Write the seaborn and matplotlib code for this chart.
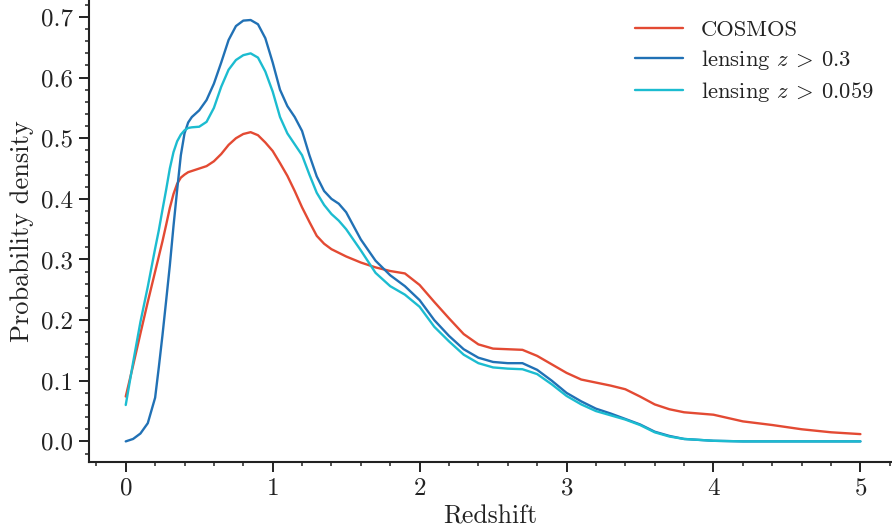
import matplotlib
matplotlib.use("Agg")
import matplotlib.pyplot as plt
from matplotlib.ticker import MultipleLocator, FormatStrFormatter
import pandas as pd
import seaborn as sns

# Redshift grid shared by the three density curves
redshift = [0.00, 0.05, 0.10, 0.15, 0.20, 0.225, 0.25, 0.275, 0.30, 0.325,
            0.35, 0.375, 0.40, 0.425, 0.45,
            0.50, 0.55, 0.60, 0.65, 0.70, 0.75, 0.80, 0.85, 0.90, 0.95,
            1.00, 1.05, 1.10, 1.15, 1.20, 1.25, 1.30, 1.35, 1.40, 1.45,
            1.50, 1.6, 1.7, 1.8, 1.9, 2.0, 2.1, 2.2, 2.3, 2.4,
            2.5, 2.6, 2.7, 2.8, 2.9, 3.0, 3.1, 3.2, 3.3, 3.4,
            3.5, 3.6, 3.7, 3.8, 4.0, 4.2, 4.4, 4.6, 4.8, 5.0]

cosmos = [0.074, 0.125, 0.178, 0.230, 0.280, 0.305, 0.330, 0.357, 0.385, 0.408,
          0.425, 0.435, 0.440, 0.444, 0.446,
          0.450, 0.454, 0.462, 0.474, 0.489, 0.500, 0.507, 0.510, 0.505, 0.493,
          0.479, 0.459, 0.438, 0.413, 0.386, 0.362, 0.339, 0.326, 0.317, 0.311,
          0.305, 0.295, 0.287, 0.281, 0.277, 0.258, 0.230, 0.203, 0.177, 0.160,
          0.153, 0.152, 0.151, 0.141, 0.127, 0.113, 0.102, 0.097, 0.092, 0.086,
          0.074, 0.061, 0.053, 0.048, 0.044, 0.033, 0.027, 0.020, 0.015, 0.012]

lensing_03 = [0.000, 0.004, 0.013, 0.030, 0.072, 0.122, 0.175, 0.232, 0.290, 0.355,
              0.415, 0.472, 0.508, 0.526, 0.535,
              0.546, 0.563, 0.590, 0.625, 0.662, 0.685, 0.694, 0.695, 0.688, 0.665,
              0.625, 0.580, 0.553, 0.535, 0.512, 0.472, 0.437, 0.413, 0.400, 0.392,
              0.378, 0.333, 0.298, 0.274, 0.256, 0.233, 0.200, 0.174, 0.152, 0.138,
              0.131, 0.129, 0.129, 0.118, 0.100, 0.080, 0.066, 0.054, 0.046, 0.037,
              0.028, 0.016, 0.009, 0.004, 0.001, 0.000, 0.000, 0.000, 0.000, 0.000]

lensing_0059 = [0.060, 0.130, 0.197, 0.255, 0.318, 0.348, 0.382, 0.415, 0.450, 0.477,
                0.495, 0.506, 0.513, 0.517, 0.518,
                0.519, 0.527, 0.550, 0.585, 0.613, 0.629, 0.637, 0.640, 0.633, 0.610,
                0.577, 0.535, 0.508, 0.490, 0.472, 0.440, 0.410, 0.390, 0.375, 0.364,
                0.350, 0.315, 0.278, 0.256, 0.242, 0.222, 0.189, 0.165, 0.143, 0.129,
                0.122, 0.120, 0.119, 0.111, 0.094, 0.075, 0.061, 0.050, 0.043, 0.036,
                0.027, 0.015, 0.008, 0.004, 0.001, 0.000, 0.000, 0.000, 0.000, 0.000]

labels = ["COSMOS", r"lensing $z\:>\:0.3$", r"lensing $z\:>\:0.059$"]
colors = ["#e34a33", "#2171b5", "#1cbcd0"]

df = pd.concat([
    pd.DataFrame({"Redshift": redshift, "density": vals, "sample": lab})
    for vals, lab in zip([cosmos, lensing_03, lensing_0059], labels)
], ignore_index=True)

sns.set_theme(style="ticks")
plt.rcParams.update({
    "font.family": ["cmr10", "DejaVu Serif"],
    "mathtext.fontset": "cm",
    "axes.formatter.use_mathtext": True,
    "font.size": 16,
    "axes.edgecolor": "#222222",
    "xtick.color": "#222222",
    "ytick.color": "#222222",
    "text.color": "#222222",
    "axes.labelcolor": "#222222",
    "lines.solid_capstyle": "round",
    "lines.solid_joinstyle": "round",
})

fig = plt.figure(figsize=(8.92, 5.31), dpi=100)
ax = fig.add_axes([89 / 892, 69 / 531, 803 / 892, 462 / 531])

sns.lineplot(data=df, x="Redshift", y="density", hue="sample",
             hue_order=labels, palette=colors, linewidth=1.7, ax=ax,
             sort=False, estimator=None)

ax.set_xlim(-0.25, 5.215)
ax.set_ylim(-0.034, 0.728)
ax.xaxis.set_major_locator(MultipleLocator(1))
ax.xaxis.set_minor_locator(MultipleLocator(0.2))
ax.yaxis.set_major_locator(MultipleLocator(0.1))
ax.yaxis.set_minor_locator(MultipleLocator(0.02))
ax.yaxis.set_major_formatter(FormatStrFormatter("%.1f"))

ax.tick_params(which="major", direction="out", length=7.2, width=1.4,
               labelsize=18, pad=4)
ax.tick_params(which="minor", direction="out", length=3.0, width=1.1)
for side in ["left", "bottom"]:
    ax.spines[side].set_linewidth(1.5)
sns.despine(ax=ax)

ax.set_xlabel("Redshift", fontsize=18.5, labelpad=4)
ax.set_ylabel("Probability density", fontsize=19, labelpad=5)

leg = ax.legend(loc="upper right", frameon=False, fontsize=16.3,
                handlelength=2.12, handletextpad=0.8, labelspacing=0.35,
                bbox_to_anchor=(1.003, 1.0))
for line in leg.get_lines():
    line.set_linewidth(1.7)

fig.savefig("out.png", dpi=100)
